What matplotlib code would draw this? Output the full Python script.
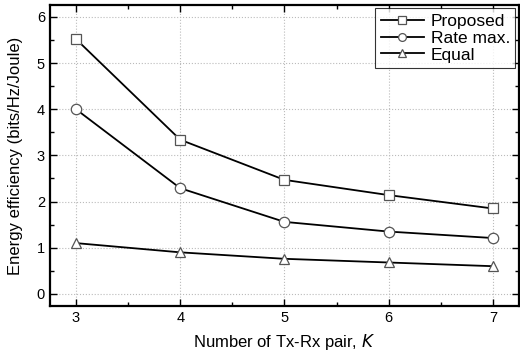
import matplotlib.pyplot as plt
from matplotlib.ticker import MultipleLocator

plt.rcParams['font.family'] = ['Liberation Sans', 'DejaVu Sans']

# dados
pares = [3, 4, 5, 6, 7]
proposto = [5.52, 3.34, 2.47, 2.14, 1.85]
taxa_max = [4.0, 2.29, 1.56, 1.35, 1.21]
igual = [1.1, 0.9, 0.76, 0.68, 0.6]

fig = plt.figure(figsize=(5.2, 3.52), dpi=100)
ax = fig.add_axes([0.096, 0.131, 0.902, 0.855])

estilo = dict(color='black', lw=1.3, markerfacecolor='white', markeredgecolor='#555555',
              markeredgewidth=0.9, markersize=7.5)
ax.plot(pares, proposto, marker='s', label='Proposed', **estilo)
ax.plot(pares, taxa_max, marker='o', label='Rate max.', **estilo)
ax.plot(pares, igual, marker='^', label='Equal', **estilo)

ax.set_xlim(2.75, 7.25)
ax.set_ylim(-0.26, 6.26)
ax.xaxis.set_major_locator(MultipleLocator(1))
ax.xaxis.set_minor_locator(MultipleLocator(0.5))
ax.yaxis.set_major_locator(MultipleLocator(1))
ax.yaxis.set_minor_locator(MultipleLocator(0.5))
ax.tick_params(which='both', direction='in', top=True, right=True, labelsize=10.5)
ax.tick_params(which='major', length=5, width=1)
ax.tick_params(which='minor', length=3, width=1)
for s in ax.spines.values():
    s.set_linewidth(1.6)

ax.grid(True, which='major', linestyle=':', color='#bbbbbb', lw=0.8)
ax.set_xlabel('Number of Tx-Rx pair, $\\mathit{K}$', fontsize=12, labelpad=5)
ax.set_ylabel('Energy efficiency (bits/Hz/Joule)', fontsize=12, labelpad=10)

leg = ax.legend(loc='upper right', fontsize=12.5, frameon=True, fancybox=False,
                borderaxespad=0.2, handlelength=2.5, labelspacing=0.1,
                borderpad=0.3, handletextpad=0.4, markerscale=0.75)
leg.get_frame().set_edgecolor('black')
leg.get_frame().set_linewidth(0.8)

fig.savefig('out.png', dpi=100)
